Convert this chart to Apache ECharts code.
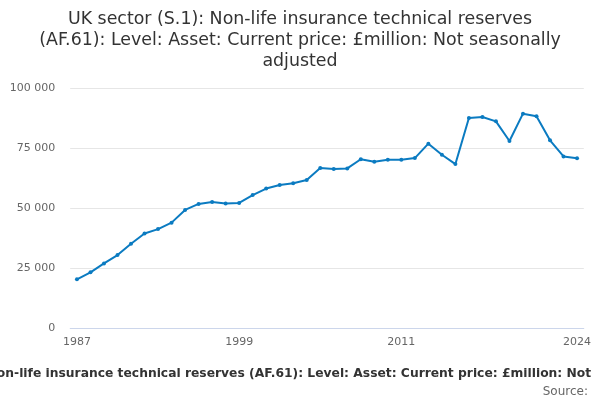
<!DOCTYPE html>
<html>
<head>
<meta charset="utf-8">
<script src="https://cdn.jsdelivr.net/npm/echarts@6/dist/echarts.min.js"></script>
<style>html,body{margin:0;padding:0;background:#fff}#c{width:600px;height:400px}</style>
</head>
<body>
<div id="c"></div>
<script>
const years = ['1987','1988','1989','1990','1991','1992','1993','1994','1995','1996','1997','1998','1999','2000','2001','2002','2003','2004','2005','2006','2007','2008','2009','2010','2011','2012','2013','2014','2015','2016','2017','2018','2019','2020','2021','2022','2023','2024'];
const values = [20300,23200,26900,30400,35100,39400,41200,43900,49200,51700,52500,51900,52100,55400,58100,59600,60300,61700,66700,66300,66500,70300,69300,70100,70100,70800,76800,72200,68300,87500,87900,86100,77900,89300,88200,78200,71500,70700];
const yTicks = [0,25000,50000,75000,100000];
const xLabelYears = ['1987','1999','2011','2024'];
const xTickYears = ['1987','1990','1993','1996','1999','2002','2005','2008','2011','2014','2017','2020','2024'];
const titleText = 'UK sector (S.1): Non-life insurance technical reserves\n(AF.61): Level: Asset: Current price: £million: Not seasonally\nadjusted';
const footerText = 'UK sector (S.1): Non-life insurance technical reserves (AF.61): Level: Asset: Current price: £million: Not seasonally adjusted';
const sourceText = 'Source:';

const chart = echarts.init(document.getElementById('c'), null, {renderer:'canvas'});
chart.setOption({
  animation:false,
  textStyle:{fontFamily:'DejaVu Sans'},
  title:{
    text:titleText, left:'center', top:4,
    textStyle:{fontFamily:'DejaVu Sans',fontSize:17.4,fontWeight:'normal',color:'#333',lineHeight:21}
  },
  grid:{left:70.2,right:16.2,top:88,bottom:72},
  xAxis:{
    type:'category', data:years, boundaryGap:true,
    axisLine:{lineStyle:{color:'#ccd6eb'}},
    axisTick:{alignWithLabel:true,length:9,lineStyle:{color:'#ccd6eb'},interval:(i,v)=> xTickYears.includes(v)},
    axisLabel:{color:'#666',fontSize:11,interval:(i,v)=> xLabelYears.includes(v), margin:9}
  },
  yAxis:{
    type:'value', min:yTicks[0], max:yTicks[yTicks.length-1], interval:25000,
    axisLine:{show:false}, axisTick:{show:false},
    splitLine:{lineStyle:{color:'#e6e6e6'}},
    axisLabel:{color:'#666',fontSize:11,margin:15,formatter:(v)=> String(v).replace(/\B(?=(\d{3})+(?!\d))/g,' ')}
  },
  series:[{
    type:'line', data:values, symbol:'circle', symbolSize:4, showSymbol:true,
    lineStyle:{color:'#0b7bc1',width:2}, itemStyle:{color:'#0b7bc1'}
  }],
  graphic:[
    {type:'text',x:303,y:374,style:{text:footerText,font:'bold 12.3px "DejaVu Sans"',fill:'#333',textAlign:'center',textVerticalAlign:'middle'}},
    {type:'rect',shape:{x:595,y:364,width:5,height:20},style:{fill:'#fff'},z:200},
    {type:'text',x:588,y:392,style:{text:sourceText,font:'12px "DejaVu Sans"',fill:'#666',textAlign:'right',textVerticalAlign:'middle'}}
  ]
});
</script>
</body>
</html>
